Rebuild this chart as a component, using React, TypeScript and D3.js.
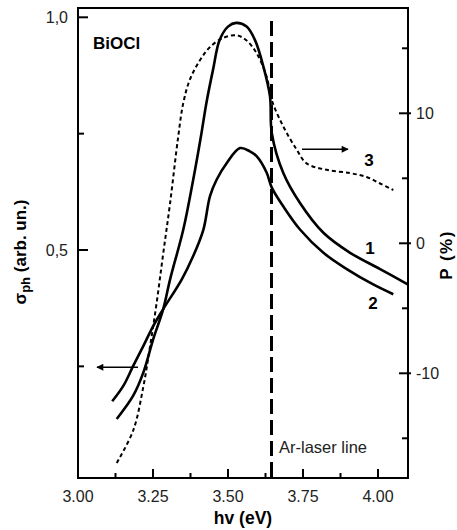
import React from "react";
import * as d3 from "d3";

// photon energy (eV) and photoconductivity, curve 1
const energy1 = [3.129, 3.184, 3.218, 3.251, 3.284, 3.307, 3.351, 3.384, 3.41, 3.428, 3.45, 3.472, 3.5, 3.527, 3.562, 3.59, 3.618, 3.64, 3.646, 3.684, 3.74, 3.818, 3.907, 4.007, 4.099];
const sigma1 = [0.137, 0.187, 0.237, 0.309, 0.373, 0.437, 0.544, 0.651, 0.745, 0.816, 0.887, 0.951, 0.98, 0.988, 0.98, 0.951, 0.894, 0.83, 0.751, 0.666, 0.601, 0.537, 0.494, 0.459, 0.426];

// curve 2
const energy2 = [3.114, 3.151, 3.184, 3.218, 3.251, 3.284, 3.346, 3.384, 3.418, 3.44, 3.462, 3.496, 3.54, 3.573, 3.596, 3.629, 3.646, 3.684, 3.74, 3.818, 3.896, 3.984, 4.051];
const sigma2 = [0.175, 0.208, 0.251, 0.294, 0.337, 0.373, 0.437, 0.487, 0.544, 0.616, 0.651, 0.687, 0.719, 0.712, 0.701, 0.666, 0.634, 0.594, 0.544, 0.494, 0.459, 0.426, 0.405];

// curve 3, polarization P (%) on right axis
const energy3 = [3.129, 3.184, 3.218, 3.24, 3.262, 3.284, 3.307, 3.334, 3.351, 3.373, 3.407, 3.44, 3.484, 3.529, 3.562, 3.596, 3.629, 3.646, 3.684, 3.729, 3.762, 3.829, 3.907, 3.962, 4.007, 4.051];
const polar3 = [-16.9, -14.4, -11.0, -7.95, -4.6, -0.8, 3.1, 8.2, 10.8, 12.6, 14.1, 15.1, 15.8, 16.0, 15.6, 14.6, 12.8, 11.0, 9.0, 7.2, 6.15, 5.65, 5.4, 5.1, 4.6, 4.1];

const xTicks = [3.0, 3.25, 3.5, 3.75, 4.0];
const xMinor = [3.125, 3.375, 3.625, 3.875];
const leftTicks = [0.5, 1.0];
const leftMinor = [0.25, 0.75];
const rightTicks = [-10, 0, 10];
const rightMinor = [-15, -5, 5, 15];
const laserLine = 3.645;

const W = 457;
const H = 530;
const left = 78, right = 408, top = 8, bottom = 478;
const font = "Arial, 'Liberation Sans', Helvetica, sans-serif";

export default function App() {
  const x = d3.scaleLinear().domain([3.0, 4.0]).range([left, left + 300]);
  const yL = d3.scaleLinear().domain([0.5, 1.0]).range([250, 17.3]);
  const yR = d3.scaleLinear().domain([0, 10]).range([243.3, 113.3]);

  const line = d3.line<[number, number]>().curve(d3.curveCatmullRom.alpha(0.5));
  const path1 = line(energy1.map((e, i) => [x(e), yL(sigma1[i])]));
  const path2 = line(energy2.map((e, i) => [x(e), yL(sigma2[i])]));
  const path3 = line(energy3.map((e, i) => [x(e), yR(polar3[i])]));

  const fmt = (v: number) => v.toFixed(1).replace(".", ",");

  return (
    <svg width={W} height={H} style={{ position: "absolute", left: 0, top: 0, background: "#fff" }} fontFamily={font}>
      <defs>
        <marker id="arr" viewBox="0 0 10 10" refX="9" refY="5" markerWidth="9" markerHeight="7" orient="auto" markerUnits="userSpaceOnUse">
          <path d="M0,0 L10,5 L0,10 z" fill="#000" />
        </marker>
      </defs>

      {/* curves */}
      <path d={path3 ?? ""} fill="none" stroke="#000" strokeWidth={2} strokeDasharray="4,3" />
      <path d={path1 ?? ""} fill="none" stroke="#000" strokeWidth={2.6} />
      <path d={path2 ?? ""} fill="none" stroke="#000" strokeWidth={2.6} />

      {/* laser line */}
      <line x1={x(laserLine)} x2={x(laserLine)} y1={21} y2={bottom} stroke="#000" strokeWidth={3} strokeDasharray="15,6" />
      <text x={279} y={453} fontSize={16.5} fill="#222">Ar-laser line</text>

      {/* frame */}
      <rect x={left} y={top} width={right - left} height={bottom - top} fill="none" stroke="#000" strokeWidth={2} />

      {/* bottom axis */}
      {xTicks.map((t) => (
        <g key={"x" + t}>
          <line x1={x(t)} x2={x(t)} y1={bottom} y2={bottom - 9} stroke="#000" strokeWidth={2} />
          <text x={x(t)} y={502} fontSize={16} textAnchor="middle" fill="#222">{t.toFixed(2)}</text>
        </g>
      ))}
      {xMinor.map((t) => (
        <line key={"xm" + t} x1={x(t)} x2={x(t)} y1={bottom} y2={bottom - 5} stroke="#000" strokeWidth={2} />
      ))}
      <text x={243} y={524} fontSize={17.5} fontWeight="bold" textAnchor="middle">hv (eV)</text>

      {/* left axis */}
      {leftTicks.map((t) => (
        <g key={"l" + t}>
          <line x1={left} x2={left + 10} y1={yL(t)} y2={yL(t)} stroke="#000" strokeWidth={2} />
          <text x={68} y={yL(t) + 6} fontSize={16} textAnchor="end" fill="#222">{fmt(t)}</text>
        </g>
      ))}
      {leftMinor.map((t) => (
        <line key={"lm" + t} x1={left} x2={left + 6} y1={yL(t)} y2={yL(t)} stroke="#000" strokeWidth={2} />
      ))}
      <text transform="translate(26,252) rotate(-90)" fontSize={17} fontWeight="bold" textAnchor="middle">
        σ<tspan fontSize={13} dy={4}>ph</tspan><tspan dy={-4}> (arb. un.)</tspan>
      </text>

      {/* right axis */}
      {rightTicks.map((t) => (
        <g key={"r" + t}>
          <line x1={right - 9} x2={right + 3} y1={yR(t)} y2={yR(t)} stroke="#000" strokeWidth={2} />
          <text x={416} y={yR(t) + 6} fontSize={16} fill="#222">{t}</text>
        </g>
      ))}
      {rightMinor.map((t) => (
        <line key={"rm" + t} x1={right - 6} x2={right} y1={yR(t)} y2={yR(t)} stroke="#000" strokeWidth={2} />
      ))}
      <text transform="translate(452,255) rotate(-90)" fontSize={17} fontWeight="bold" textAnchor="middle" letterSpacing={1.5}>P (%)</text>

      {/* annotations */}
      <text x={93} y={49} fontSize={17} fontWeight="bold">BiOCl</text>
      <text x={370} y={254} fontSize={17} fontWeight="bold" textAnchor="middle">1</text>
      <text x={373} y={309} fontSize={17} fontWeight="bold" textAnchor="middle">2</text>
      <text x={369} y={166} fontSize={17} fontWeight="bold" textAnchor="middle">3</text>
      <line x1={302} x2={348} y1={149.3} y2={149.3} stroke="#000" strokeWidth={1.5} markerEnd="url(#arr)" />
      <line x1={138} x2={97} y1={367.3} y2={367.3} stroke="#000" strokeWidth={1.5} markerEnd="url(#arr)" />
    </svg>
  );
}
